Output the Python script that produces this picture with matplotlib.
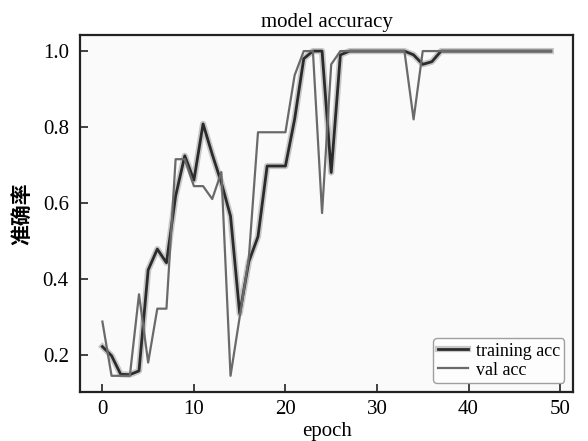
import matplotlib
matplotlib.use('Agg')
import matplotlib.pyplot as plt
import matplotlib.patheffects as pe


epochs = list(range(50))
train_acc = [0.221, 0.197, 0.148, 0.147, 0.157, 0.423, 0.478, 0.442, 0.618, 0.724,
             0.660, 0.808, 0.728, 0.653, 0.565, 0.308, 0.445, 0.511, 0.697, 0.697,
             0.697, 0.820, 0.980, 1.0, 1.0, 0.680, 0.990, 1.0, 1.0, 1.0,
             1.0, 1.0, 1.0, 1.0, 0.990, 0.965, 0.972, 1.0, 1.0, 1.0,
             1.0, 1.0, 1.0, 1.0, 1.0, 1.0, 1.0, 1.0, 1.0, 1.0]
val_acc = [0.287, 0.144, 0.144, 0.144, 0.359, 0.179, 0.321, 0.321, 0.715, 0.715,
           0.644, 0.644, 0.610, 0.681, 0.144, 0.299, 0.455, 0.786, 0.786, 0.786,
           0.786, 0.936, 1.0, 1.0, 0.573, 0.965, 1.0, 1.0, 1.0, 1.0,
           1.0, 1.0, 1.0, 1.0, 0.820, 1.0, 1.0, 1.0, 1.0, 1.0,
           1.0, 1.0, 1.0, 1.0, 1.0, 1.0, 1.0, 1.0, 1.0, 1.0]

plt.rcParams['font.family'] = 'serif'
plt.rcParams['font.serif'] = ['Liberation Serif', 'DejaVu Serif']

fig = plt.figure(figsize=(5.88, 4.41), dpi=100)
ax = fig.add_axes([0.136, 0.111, 0.839, 0.810])
ax.set_facecolor('#fafafa')

# soft grey halo around the training curve, like the scanned original
halo = [pe.Stroke(linewidth=4.5, foreground='#c8c8c8'), pe.Normal()]
ax.plot(epochs, train_acc, color='#2b2b2b', linewidth=2.0, label='training acc',
        path_effects=halo)
ax.plot(epochs, val_acc, color='#6a6a6a', linewidth=1.6, label='val acc')

ax.set_title('model accuracy', fontsize=15)
ax.set_xlabel('epoch', fontsize=15, labelpad=2)
ax.set_ylabel('准确率', fontsize=15, fontweight='bold', labelpad=8,
              family=['Noto Sans CJK SC', 'DejaVu Sans'])
ax.set_xticks([0, 10, 20, 30, 40, 50])
ax.set_yticks([0.2, 0.4, 0.6, 0.8, 1.0])
ax.tick_params(direction='in', length=6, width=1.2, labelsize=15, pad=6, color='#222222')
ax.tick_params(axis='y', pad=8)
for sp in ax.spines.values():
    sp.set_linewidth(1.6)
    sp.set_color('#222222')

leg = ax.legend(loc='lower right', fontsize=13, handlelength=1.7,
                borderpad=0.25, labelspacing=0.1, handletextpad=0.4,
                borderaxespad=0.5)
leg.get_frame().set_edgecolor('#888888')

fig.savefig('out.png', dpi=100)
